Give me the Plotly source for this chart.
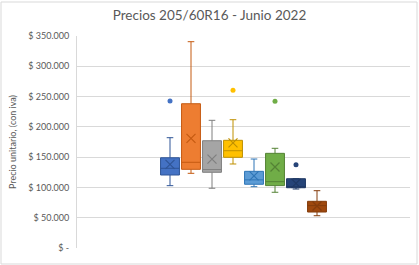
import plotly.graph_objects as go

series = ["Serie 1", "Serie 2", "Serie 3", "Serie 4", "Serie 5", "Serie 6", "Serie 7", "Serie 8"]
q1 = [120500, 129900, 125000, 149700, 105200, 103000, 99500, 59400]
median = [131600, 141500, 129500, 160600, 112500, 109500, 101000, 70000]
q3 = [149000, 238200, 177100, 177800, 126600, 156300, 114400, 77100]
lower = [102900, 123300, 98600, 138700, 101200, 92000, 97400, 53300]
upper = [182100, 340600, 210800, 211800, 146900, 164600, 114400, 94600]
means = [138000, 181100, 146600, 173500, 119000, 133700, 106800, 69300]
outliers = [[242700], [], [], [260300], [], [242200], [137500], []]

colors = ["#4472C4", "#ED7D31", "#A5A5A5", "#FFC000", "#5B9BD5", "#70AD47", "#264478", "#9E480E"]
edges = ["#2F5597", "#C55A11", "#7F7F7F", "#BF9000", "#2E75B6", "#548235", "#1F3864", "#843C0C"]

tickvals = [0, 50000, 100000, 150000, 200000, 250000, 300000, 350000]
ticktext = ["$ -", "$ 50.000", "$ 100.000", "$ 150.000", "$ 200.000", "$ 250.000", "$ 300.000", "$ 350.000"]

W, H = 419, 265
ML, MR, MT, MB = 77, 9, 36, 17

fig = go.Figure()
for i, name in enumerate(series):
    fig.add_trace(go.Box(
        x=[i], q1=[q1[i]], median=[median[i]], q3=[q3[i]],
        lowerfence=[lower[i]], upperfence=[upper[i]],
        name=name, fillcolor=colors[i],
        line=dict(color=edges[i], width=1),
        width=0.9, whiskerwidth=0.35, boxpoints=False, showlegend=False,
        hoverinfo="skip",
    ))
    fig.add_trace(go.Scatter(
        x=[i], y=[means[i]], mode="markers", showlegend=False, hoverinfo="skip",
        marker=dict(symbol="x-thin", size=9, line=dict(color=edges[i], width=1.2)),
    ))
    if outliers[i]:
        fig.add_trace(go.Scatter(
            x=[i] * len(outliers[i]), y=outliers[i], mode="markers", showlegend=False,
            hoverinfo="skip", marker=dict(symbol="circle", size=5, color=colors[i]),
        ))

pw = W - ML - MR
ph = H - MT - MB
n = len(series)
center = (n - 1) / 2
half = pw / 21.0 / 2
fig.add_shape(type="rect", xref="paper", yref="paper",
              x0=(1 - ML) / pw, x1=(W - 2 - ML) / pw,
              y0=(1 - MB) / ph, y1=(H - 2 - MB) / ph,
              line=dict(color="#D9D9D9", width=1), layer="below")

fig.update_layout(
    width=W, height=H,
    margin=dict(l=ML, r=MR, t=MT, b=MB),
    paper_bgcolor="white", plot_bgcolor="white",
    font=dict(family="Lato, Open Sans, sans-serif", color="#595959"),
    title=dict(text="Precios 205/60R16 - Junio 2022", x=0.5, xref="container", xanchor="center",
               y=1 - 15 / H, yanchor="middle", font=dict(size=13.5, color="#595959")),
    xaxis=dict(range=[center - half, center + half], showticklabels=False, showgrid=False,
               zeroline=False, showline=False, fixedrange=True),
    yaxis=dict(range=[0, 350000], tickvals=tickvals, ticktext=ticktext,
               showgrid=True, gridcolor="#D9D9D9", gridwidth=1, zeroline=False,
               showline=True, linecolor="#D9D9D9", linewidth=1,
               tickfont=dict(size=9, color="#595959"), ticks="", ticklen=0,
               ticklabelstandoff=5,
               title=dict(text="Precio unitario, (con iva)", font=dict(size=9, color="#595959"), standoff=10)),
)

fig.write_html("out.html")
